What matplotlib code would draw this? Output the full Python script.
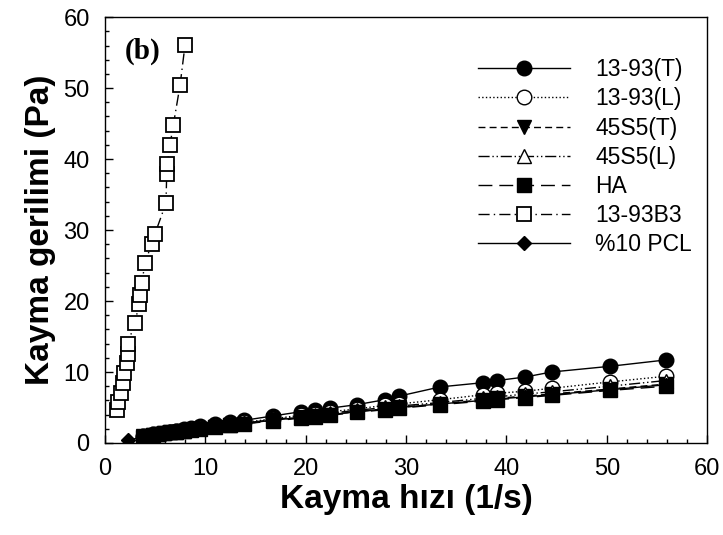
import matplotlib
matplotlib.use("Agg")
import matplotlib.pyplot as plt
from matplotlib.ticker import MultipleLocator

# ---- data ----
shear_rate = [3.8, 4.3, 4.8, 5.3, 5.9, 6.5, 7.1, 7.9, 8.6, 9.5, 11.0, 12.5, 13.9, 16.7,
              19.5, 20.9, 22.4, 25.1, 27.9, 29.3, 33.4, 37.7, 39.1, 41.9, 44.5, 50.3, 55.9]
stress_1393T = [0.9, 1.0, 1.15, 1.3, 1.45, 1.6, 1.75, 1.95, 2.1, 2.4, 2.7, 2.95, 3.2, 3.8,
                4.4, 4.6, 4.9, 5.4, 6.1, 6.6, 7.9, 8.5, 8.8, 9.3, 10.0, 10.8, 11.7]
stress_1393L = [0.95, 1.05, 1.2, 1.3, 1.4, 1.55, 1.7, 1.8, 2.0, 2.1, 2.4, 2.7, 2.9, 3.4,
                3.9, 4.1, 4.4, 4.8, 5.3, 5.5, 6.1, 6.8, 7.0, 7.3, 7.7, 8.6, 9.4]
stress_45S5T = [0.95, 1.05, 1.15, 1.25, 1.4, 1.5, 1.6, 1.75, 1.85, 2.0, 2.3, 2.5, 2.7, 3.2,
                3.6, 3.8, 4.0, 4.4, 4.8, 5.0, 5.5, 6.1, 6.3, 6.6, 6.9, 7.6, 8.3]
stress_45S5L = [0.9, 1.05, 1.15, 1.25, 1.4, 1.5, 1.6, 1.75, 1.9, 2.05, 2.35, 2.6, 2.8, 3.3,
                3.7, 3.9, 4.2, 4.6, 5.0, 5.2, 5.7, 6.3, 6.5, 6.9, 7.2, 8.0, 8.8]
stress_HA = [0.9, 1.0, 1.15, 1.25, 1.35, 1.5, 1.6, 1.7, 1.85, 2.0, 2.25, 2.5, 2.7, 3.1,
             3.5, 3.7, 3.9, 4.3, 4.7, 4.9, 5.4, 5.9, 6.1, 6.4, 6.7, 7.4, 8.0]
shear_rate_PCL = [2.3, 3.8, 4.3, 4.8, 5.3, 5.9, 6.5, 7.1, 7.9, 8.6, 9.5, 11.0, 12.5, 13.9, 16.7,
                  19.5, 20.9, 22.4, 25.1, 27.9, 29.3, 33.4, 37.7, 39.1, 41.9, 44.5, 50.3, 55.9]
stress_PCL = [0.4, 0.85, 0.95, 1.05, 1.2, 1.3, 1.45, 1.55, 1.7, 1.85, 2.0, 2.3, 2.55, 2.75, 3.2,
              3.6, 3.8, 4.0, 4.4, 4.8, 5.0, 5.5, 6.0, 6.2, 6.5, 6.8, 7.5, 8.2]
shear_rate_B3 = [1.16, 1.33, 1.56, 1.83, 1.9, 2.23, 2.26, 2.26, 2.99, 3.39, 3.49, 3.66, 3.99,
                 4.65, 4.99, 6.08, 6.15, 6.21, 6.48, 6.81, 7.48, 7.98]
stress_B3 = [4.6, 5.8, 7.0, 8.4, 9.8, 11.2, 12.5, 14.0, 16.9, 19.6, 20.9, 22.5, 25.3,
             28.1, 29.5, 33.8, 37.9, 39.3, 42.0, 44.8, 50.4, 56.1]

labels = ["13-93(T)", "13-93(L)", "45S5(T)", "45S5(L)", "HA", "13-93B3", "%10 PCL"]

fig = plt.figure(figsize=(7.23, 5.35), dpi=100)
ax = fig.add_axes([0.1452, 0.172, 0.978 - 0.1452, 0.968 - 0.172])

k = dict(color="black", lw=1.0)
ax.plot(shear_rate, stress_1393T, ls="-", marker="o", ms=10.5, mfc="black", mec="black", label=labels[0], **k)
ax.plot(shear_rate, stress_1393L, ls=":", marker="o", ms=10.5, mfc="white", mec="black", label=labels[1], **k)
ax.plot(shear_rate, stress_45S5T, ls=(0, (5, 3)), marker="v", ms=10.5, mfc="black", mec="black", label=labels[2], **k)
ax.plot(shear_rate, stress_45S5L, ls=(0, (8, 2, 1, 2, 1, 2)), marker="^", ms=10.5, mfc="white", mec="black", label=labels[3], **k)
ax.plot(shear_rate, stress_HA, ls=(0, (10, 5)), marker="s", ms=9.5, mfc="black", mec="black", label=labels[4], **k)
ax.plot(shear_rate_B3, stress_B3, ls=(0, (8, 3, 1, 3)), marker="s", ms=10, mfc="white", mec="black", mew=1.3, label=labels[5], **k)
ax.plot(shear_rate_PCL, stress_PCL, ls="-", marker="D", ms=7.5, mfc="black", mec="black", label=labels[6], **k)

ax.set_xlim(0, 60)
ax.set_ylim(0, 60)
ax.xaxis.set_major_locator(MultipleLocator(10))
ax.xaxis.set_minor_locator(MultipleLocator(2))
ax.yaxis.set_major_locator(MultipleLocator(10))
ax.yaxis.set_minor_locator(MultipleLocator(2))
ax.tick_params(which="both", direction="in", top=False, right=False,
               labelsize=17, width=1)
ax.tick_params(which="major", length=6)
ax.tick_params(which="minor", length=3)
ax.tick_params(axis="x", which="major", pad=11)
ax.tick_params(axis="y", which="major", pad=11)
for lab in ax.get_xticklabels() + ax.get_yticklabels():
    lab.set_family("Liberation Sans")
for s in ax.spines.values():
    s.set_linewidth(1.0)

ax.set_xlabel("Kayma hızı (1/s)", fontsize=24, fontweight="bold", family="Liberation Sans", labelpad=3)
ax.set_ylabel("Kayma gerilimi (Pa)", fontsize=24, fontweight="bold", family="Liberation Sans", labelpad=5)

ax.text(2.0, 55.2, "(b)", fontsize=21, fontweight="bold", family="Liberation Serif", va="center", ha="left")

leg = ax.legend(loc="upper right", bbox_to_anchor=(0.99, 0.925), frameon=False,
                prop={"family": "Liberation Sans", "size": 16.5},
                handlelength=4.0, handletextpad=1.1, labelspacing=0.27, borderaxespad=0)

fig.savefig("out.png", dpi=100)
